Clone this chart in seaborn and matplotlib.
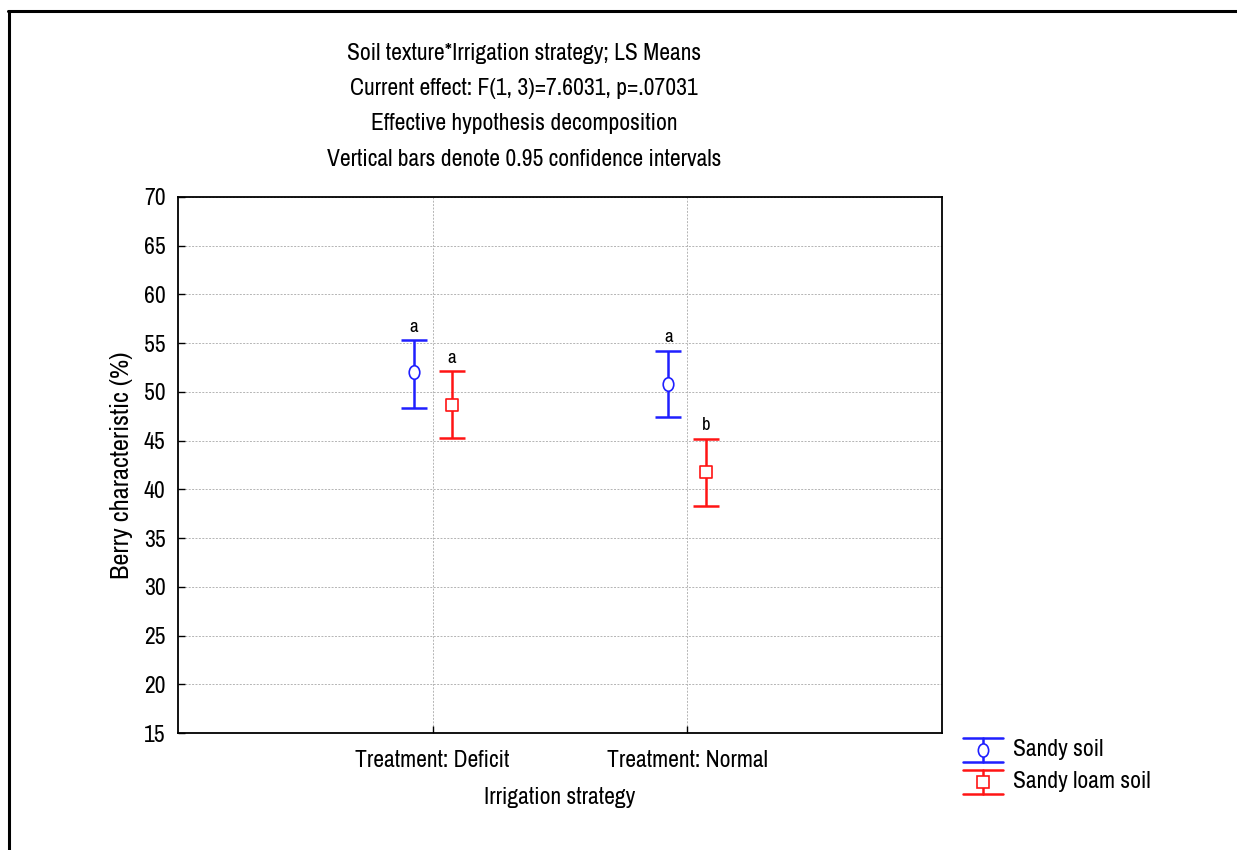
import matplotlib
matplotlib.use("Agg")
import matplotlib.pyplot as plt
from matplotlib import font_manager as fm
from matplotlib.lines import Line2D
from matplotlib.path import Path
from matplotlib.transforms import Affine2D
import numpy as np
import pandas as pd
import seaborn as sns

# LS means and 0.95 confidence limits
treatments = ["Treatment: Deficit", "Treatment: Normal"]
soils = ["Sandy soil", "Sandy loam soil"]
sandy_mean = [52.0, 50.8]
sandy_low = [48.4, 47.4]
sandy_high = [55.3, 54.2]
loam_mean = [48.7, 41.8]
loam_low = [45.3, 38.3]
loam_high = [52.1, 45.2]
sandy_letters = ["a", "a"]
loam_letters = ["a", "b"]

yticks = list(range(15, 71, 5))
title_lines = [
    "Soil texture*Irrigation strategy; LS Means",
    "Current effect: F(1, 3)=7.6031, p=.07031",
    "Effective hypothesis decomposition",
    "Vertical bars denote 0.95 confidence intervals",
]

sns.set_theme(style="white")

# prefer a narrow sans face, fall back to regular ones
installed = {f.name for f in fm.fontManager.ttflist}
preferred = ["Liberation Sans Narrow", "Arial Narrow", "Archivo Narrow",
             "PT Sans Narrow", "Roboto Condensed", "Liberation Sans"]
family = [f for f in preferred if f in installed] + ["DejaVu Sans"]
plt.rcParams["font.family"] = family
for key in ["text.color", "axes.labelcolor", "xtick.color", "ytick.color"]:
    plt.rcParams[key] = "black"

df = pd.DataFrame({
    "treatment": treatments * 2,
    "soil": [soils[0]] * 2 + [soils[1]] * 2,
    "mean": sandy_mean + loam_mean,
    "low": sandy_low + loam_low,
    "high": sandy_high + loam_high,
    "letter": sandy_letters + loam_letters,
})
pos = {t: i + 1 for i, t in enumerate(treatments)}
offset = {soils[0]: -0.075, soils[1]: 0.075}
df["x"] = df["treatment"].map(pos) + df["soil"].map(offset)

colors = {soils[0]: "#1f1fff", soils[1]: "#ff1414"}
# slightly tall ellipse for the first series, square for the second
ellipse = Path.unit_circle().transformed(Affine2D().scale(0.78, 1.0))
markers = {soils[0]: ellipse, soils[1]: "s"}
sizes = {soils[0]: 95, soils[1]: 80}

fig = plt.figure(figsize=(12.37, 8.5), dpi=100)
ax = fig.add_axes([178 / 1237, 117 / 850, 764 / 1237, 536 / 850])

for soil in soils:
    sub = df[df["soil"] == soil]
    yerr = np.vstack([sub["mean"] - sub["low"], sub["high"] - sub["mean"]])
    ax.errorbar(sub["x"], sub["mean"], yerr=yerr, fmt="none",
                ecolor=colors[soil], elinewidth=1.8, capsize=9.5,
                capthick=1.8, zorder=3)
    sns.scatterplot(data=sub, x="x", y="mean", ax=ax, marker=markers[soil],
                    s=sizes[soil], facecolor="white",
                    edgecolor=colors[soil], linewidth=1.2, zorder=4, legend=False)
    for _, r in sub.iterrows():
        ax.annotate(r["letter"], (r["x"], r["high"]), xytext=(0, 4),
                    textcoords="offset points", ha="center", va="bottom",
                    fontsize=13.5)

ax.set_xlim(0, 3)
ax.set_ylim(15, 70)
ax.set_yticks(yticks)
ax.set_xticks([pos[t] for t in treatments])
ax.set_xticklabels(treatments)
ax.tick_params(axis="both", direction="in", length=5, width=1,
               labelsize=17, left=True, bottom=True)
ax.tick_params(axis="y", pad=9)
ax.tick_params(axis="x", pad=12)
ax.grid(True, color="#b4b4b4", linestyle=(0, (2, 1.5)), linewidth=0.7)
ax.set_axisbelow(True)
for s in ax.spines.values():
    s.set_visible(True)
    s.set_color("black")
    s.set_linewidth(1.3)
ax.set_xlabel("Irrigation strategy", fontsize=17, labelpad=12)
ax.set_ylabel("Berry characteristic (%)", fontsize=19, labelpad=8)

# stacked header lines
cx = 524 / 1237
for i, line in enumerate(title_lines):
    fig.text(cx, 1 - (53 + i * 35.5) / 850, line, ha="center", va="center",
             fontsize=17)

# legend drawn in figure pixel space
for i, soil in enumerate(soils):
    yc = 850 - (750 + i * 31.5)
    top, bot = yc + 12, yc - 12
    c = colors[soil]
    kw = dict(color=c, lw=1.8, transform=None)
    fig.add_artist(Line2D([963, 1003], [top, top], **kw))
    fig.add_artist(Line2D([963, 1003], [bot, bot], **kw))
    fig.add_artist(Line2D([983, 983], [bot, top], **kw))
    fig.add_artist(Line2D([983], [yc], marker=markers[soil], markersize=9.5 if i == 0 else 8,
                          markerfacecolor="white", markeredgecolor=c,
                          markeredgewidth=1.2, linestyle="none", transform=None))
    fig.text(1013 / 1237, yc / 850, soil, ha="left", va="center", fontsize=17)

# outer frame lines (top and left)
fig.add_artist(Line2D([8 / 1237, 1.0], [1 - 11 / 850, 1 - 11 / 850],
                      color="black", lw=2.2, transform=fig.transFigure))
fig.add_artist(Line2D([9 / 1237, 9 / 1237], [0, 1 - 11 / 850],
                      color="black", lw=2.2, transform=fig.transFigure))

fig.savefig("out.png", dpi=100, facecolor="white")
